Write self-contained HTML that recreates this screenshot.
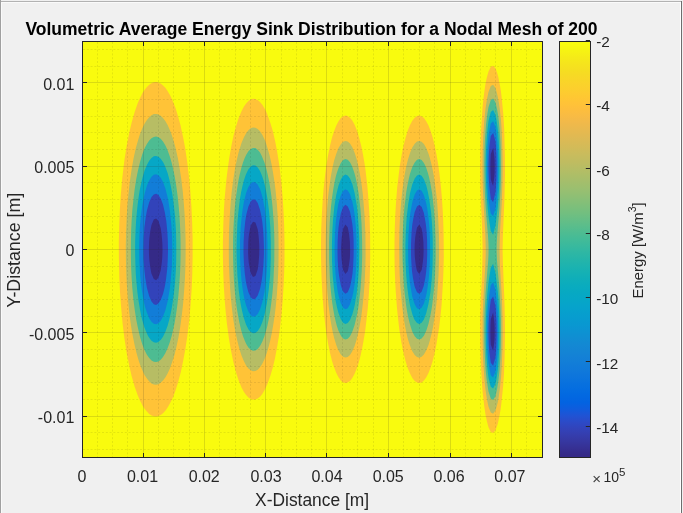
<!DOCTYPE html>
<html><head><meta charset="utf-8"><style>
html,body{margin:0;padding:0;background:#f0f0f0;overflow:hidden}
svg{display:block;filter:blur(0.4px);font-family:"Liberation Sans",sans-serif}
</style></head><body>
<svg width="683" height="513" viewBox="0 0 683 513">
<rect width="683" height="513" fill="#f0f0f0"/>
<rect x="0" y="1" width="682" height="1" fill="#b2b2b2"/>
<rect x="0" y="0" width="1" height="513" fill="#a0a0a0"/>
<rect x="1" y="2" width="680" height="1" fill="#fafafa"/>
<rect x="1" y="2" width="1" height="511" fill="#fafafa"/>
<rect x="680" y="2" width="1" height="511" fill="#ffffff"/>
<rect x="681" y="1" width="1" height="512" fill="#6e6e6e"/>
<rect x="82" y="41" width="461" height="417" fill="#f9fb0e"/>
<path d="M493.5 66.2 495.5 68.4 497.0 72.4 498.2 76.6 499.9 85.0 500.9 91.3 501.9 99.7 503.3 114.3 504.2 129.0 504.9 156.2 505.0 175.0 504.4 200.1 502.9 235.7 502.6 250.3 502.9 262.9 504.4 300.6 504.9 319.4 505.0 332.0 504.9 342.4 504.6 357.1 504.0 373.8 503.1 386.4 501.4 403.1 500.6 409.4 499.5 415.7 497.8 423.8 495.5 430.2 493.1 432.9 490.8 431.9 488.5 427.2 487.1 422.0 485.7 415.7 484.4 407.3 482.7 392.7 482.0 384.3 480.9 365.5 480.3 344.5 480.2 319.4 480.7 300.6 481.6 282.6 482.3 265.0 482.6 248.3 482.2 231.5 480.5 191.7 480.2 166.6 480.4 145.7 481.1 129.0 482.5 108.0 483.1 101.7 484.4 91.3 485.3 85.0 486.2 80.3 487.1 76.6 488.5 71.4 490.8 66.7 493.1 65.7 493.5 66.2ZM159.2 82.9 160.7 83.6 163.0 85.4 165.3 87.8 167.6 91.0 169.0 93.4 170.2 95.5 172.2 99.8 175.5 108.0 178.1 116.4 180.4 124.8 183.1 137.3 185.1 147.8 187.3 162.4 189.0 177.1 190.2 189.7 191.4 206.4 192.1 221.0 192.6 237.8 192.6 256.6 192.3 273.4 191.7 288.0 190.4 306.9 189.3 319.4 187.3 336.2 185.4 348.7 183.1 361.3 180.9 371.7 178.1 382.2 175.5 390.6 173.1 396.9 169.9 403.6 167.6 407.6 166.3 409.4 165.3 410.8 163.0 413.2 160.7 415.0 158.4 416.1 156.1 416.5 153.8 416.3 151.5 415.4 149.2 413.9 146.9 411.6 144.5 408.7 142.2 405.0 141.3 403.1 139.9 400.4 137.6 395.0 134.6 386.4 131.6 375.9 129.2 365.5 126.7 352.9 124.4 338.3 122.6 323.6 121.1 306.9 120.0 292.2 119.3 277.6 118.9 258.7 118.8 242.0 119.3 223.1 119.9 208.5 120.9 193.8 122.4 177.1 124.4 160.3 126.7 145.7 129.2 133.1 131.6 122.7 134.6 112.2 137.6 103.6 139.9 98.2 141.3 95.5 142.2 93.6 144.5 89.9 146.9 87.0 149.2 84.7 151.5 83.2 153.8 82.3 156.1 82.1 158.4 82.5 159.2 82.9ZM256.8 99.7 257.7 100.0 260.0 101.9 262.3 104.7 264.6 108.5 265.4 110.1 266.9 113.3 268.1 116.4 270.3 122.7 272.8 131.0 275.2 141.5 277.2 152.0 279.2 164.5 280.0 170.8 281.6 185.5 282.7 198.0 283.7 214.8 284.2 227.3 284.5 242.0 284.5 258.7 284.2 271.3 283.7 283.8 282.7 300.6 281.6 313.1 280.0 327.8 278.9 336.2 277.2 346.6 274.8 359.2 272.8 367.6 270.3 375.9 267.3 384.3 264.6 390.1 262.3 393.9 260.0 396.7 257.7 398.6 255.4 399.6 253.0 399.8 250.7 399.1 248.4 397.6 246.1 395.1 243.8 391.8 241.5 387.4 238.5 380.1 235.8 371.7 233.2 361.3 231.0 350.8 228.9 338.3 226.9 323.6 225.8 313.1 224.6 298.5 223.8 285.9 223.2 271.3 222.9 256.6 222.9 242.0 223.3 225.2 223.9 210.6 224.7 198.0 226.2 181.3 227.2 172.9 229.2 158.3 231.4 145.7 233.6 135.2 235.8 126.9 238.5 118.5 241.5 111.2 243.8 106.8 246.1 103.5 247.8 101.7 248.4 101.0 250.7 99.5 253.0 98.8 255.4 99.0 256.8 99.7ZM348.3 116.4 350.0 117.7 352.3 120.6 354.6 124.8 357.1 131.0 359.2 138.0 361.2 145.7 362.9 154.1 364.7 164.5 365.6 170.8 367.3 185.5 368.0 193.8 369.2 210.6 369.7 221.0 370.1 233.6 370.2 256.6 370.0 269.2 369.6 281.7 369.0 292.2 367.9 306.9 366.8 317.3 365.3 329.9 364.3 336.2 362.5 346.6 360.7 355.0 358.5 363.4 356.9 368.0 354.6 373.8 352.3 378.0 350.0 380.9 347.7 382.6 345.4 383.1 343.1 382.4 340.8 380.5 338.5 377.3 336.2 372.8 333.9 366.8 332.1 361.3 330.0 352.9 327.9 342.4 326.2 332.0 325.1 323.6 323.7 311.0 322.7 298.5 321.8 283.8 321.3 271.3 321.0 256.6 321.0 242.0 321.2 229.4 321.7 216.9 322.7 200.1 323.5 189.7 325.1 175.0 326.2 166.6 327.9 156.2 330.0 145.7 332.1 137.3 333.9 131.8 336.2 125.8 338.5 121.3 340.8 118.1 343.1 116.2 345.4 115.5 347.7 116.0 348.3 116.4ZM421.8 116.4 423.9 118.1 426.2 121.2 428.5 125.6 430.8 131.6 432.6 137.3 434.7 145.7 436.4 154.1 438.2 164.5 439.4 172.9 441.0 187.6 441.9 198.0 442.7 210.6 443.2 221.0 443.6 233.6 443.8 256.6 443.5 269.2 443.1 279.6 441.6 304.8 440.8 313.1 439.1 327.8 436.4 344.5 434.7 352.9 432.6 361.3 430.8 367.0 428.5 373.0 426.2 377.4 423.9 380.5 421.6 382.4 419.3 383.1 417.0 382.6 414.7 380.9 412.3 377.9 410.0 373.6 407.7 367.9 405.4 360.4 403.5 352.9 401.4 342.4 399.4 329.9 397.9 317.3 396.9 306.9 395.8 292.2 395.2 281.7 394.7 269.2 394.5 256.6 394.5 242.0 394.8 227.3 395.3 214.8 395.9 204.3 397.2 187.6 399.7 166.6 401.8 154.1 403.5 145.7 405.7 137.3 407.7 130.7 410.0 125.0 412.3 120.7 414.7 117.7 417.0 116.0 419.3 115.5 421.6 116.2 421.8 116.4Z" fill="#ffc337"/>
<path d="M493.3 85.0 495.5 88.1 497.5 95.5 498.7 101.7 499.9 110.1 501.0 120.6 501.6 129.0 502.1 139.4 502.6 160.3 502.6 170.8 502.5 181.3 501.7 204.3 499.8 235.7 499.5 250.3 499.9 265.0 501.3 288.0 502.0 300.6 502.5 319.4 502.6 332.0 502.5 346.6 501.8 365.5 501.0 378.0 499.9 388.5 498.4 398.9 497.8 402.2 497.0 405.2 495.5 410.5 493.1 413.8 490.8 412.6 490.4 411.5 488.5 406.7 486.9 398.9 485.6 390.6 484.7 382.2 483.6 367.6 483.0 357.1 482.6 336.2 482.7 315.2 483.4 298.5 485.4 262.9 485.7 254.5 485.7 248.3 485.4 235.7 483.1 193.8 482.7 181.3 482.5 166.6 482.7 152.0 483.2 137.3 484.3 120.6 485.6 108.0 486.9 99.7 488.5 91.9 490.8 86.0 493.1 84.8 493.3 85.0ZM157.9 114.3 158.4 114.4 160.7 115.8 163.0 118.0 165.3 121.0 167.6 125.1 168.5 126.9 171.1 133.1 173.2 139.4 175.5 147.8 177.9 158.3 179.7 168.7 181.3 179.2 182.8 191.7 183.9 204.3 184.8 216.9 185.3 229.4 185.6 242.0 185.6 254.5 185.4 267.1 184.9 279.6 184.2 290.1 183.0 304.8 181.8 315.2 180.1 327.8 178.3 338.3 176.5 346.6 174.6 354.4 172.2 362.1 169.9 368.4 167.6 373.5 165.3 377.6 163.0 380.6 160.7 382.8 158.4 384.2 156.1 384.7 153.8 384.5 151.5 383.4 149.2 381.4 146.9 378.6 144.5 374.9 142.0 369.6 140.4 365.5 138.9 361.3 136.5 352.9 134.5 344.5 132.0 332.0 130.4 321.5 129.1 311.0 127.9 298.5 126.9 285.9 126.3 273.4 125.9 258.7 125.8 246.2 126.1 231.5 126.7 216.9 127.5 204.3 128.7 191.7 129.9 181.3 131.7 168.7 133.6 158.3 135.9 147.8 138.3 139.4 139.9 134.3 141.2 131.0 142.2 128.4 144.5 123.7 146.9 120.0 149.2 117.2 151.5 115.2 153.8 114.1 156.1 113.9 157.9 114.3ZM257.7 129.0 260.0 131.3 262.3 134.8 264.6 139.6 266.1 143.6 268.1 149.9 269.8 156.2 271.6 164.5 273.1 172.9 274.7 183.4 275.7 191.7 276.9 204.3 277.6 214.8 278.2 225.2 278.5 237.8 278.6 248.3 278.5 260.8 278.2 273.4 277.6 283.8 276.9 294.3 275.7 306.9 274.7 315.2 273.1 325.7 272.0 332.0 270.3 340.3 268.7 346.6 266.9 352.7 264.6 359.0 262.3 363.8 260.0 367.3 257.7 369.7 255.4 370.9 253.0 371.2 250.7 370.3 248.4 368.4 246.1 365.4 243.8 361.1 241.5 355.5 239.2 348.3 237.2 340.3 235.0 329.9 233.3 319.4 232.0 308.9 230.9 298.5 230.1 288.0 229.4 275.5 228.9 262.9 228.8 250.3 228.9 237.8 229.2 227.3 229.7 216.9 230.7 202.2 231.7 191.7 233.3 179.2 235.0 168.7 236.7 160.3 238.7 152.0 241.5 143.1 243.8 137.5 246.1 133.2 248.4 130.2 250.7 128.3 253.0 127.4 255.4 127.7 257.7 129.0ZM347.6 141.5 350.0 143.6 351.4 145.7 352.3 147.3 354.6 152.7 356.4 158.3 358.0 164.5 359.7 172.9 360.8 179.2 362.0 187.6 363.0 195.9 364.5 214.8 365.4 233.6 365.6 254.5 365.4 265.0 365.0 275.5 364.4 285.9 363.6 296.4 362.0 311.0 360.8 319.4 359.3 327.8 358.0 334.1 356.4 340.3 354.6 345.9 352.3 351.3 350.0 355.0 347.7 357.0 345.4 357.6 343.1 356.8 340.8 354.4 338.5 350.5 337.7 348.7 336.2 344.7 334.2 338.3 332.7 332.0 331.1 323.6 329.8 315.2 328.5 304.8 327.5 294.3 326.7 283.8 325.8 265.0 325.7 254.5 325.7 244.1 325.8 233.6 326.2 223.1 327.1 208.5 327.8 200.1 328.7 191.7 330.1 181.3 331.1 175.0 332.7 166.6 334.2 160.3 336.2 153.9 338.5 148.1 339.9 145.7 340.8 144.2 343.1 141.8 345.4 141.0 347.6 141.5ZM420.8 141.5 421.6 141.8 423.9 144.1 426.2 148.0 428.5 153.7 429.9 158.3 431.5 164.5 432.9 170.8 434.0 177.1 435.2 185.5 436.5 195.9 437.3 204.3 438.0 214.8 438.9 233.6 439.1 244.1 439.1 254.5 438.9 265.0 438.5 275.5 437.1 296.4 436.3 304.8 434.9 315.2 432.9 327.8 431.5 334.1 429.9 340.3 428.5 344.9 426.2 350.6 423.9 354.5 423.4 355.0 421.6 356.8 419.3 357.7 417.0 357.0 414.7 354.9 412.3 351.2 411.2 348.7 409.6 344.5 407.7 338.2 406.2 332.0 404.6 323.6 403.3 315.2 402.0 304.8 400.3 285.9 399.7 275.5 399.4 265.0 399.2 244.1 399.4 231.5 399.8 221.0 400.3 212.7 401.3 200.1 402.2 191.7 403.6 181.3 404.6 175.0 406.2 166.6 407.7 160.4 409.0 156.2 410.0 152.9 412.3 147.4 414.7 143.7 417.0 141.6 419.3 140.9 420.8 141.5Z" fill="#b7bd64"/>
<path d="M493.9 99.7 495.5 102.4 497.2 110.1 498.3 116.4 499.0 122.7 499.7 131.0 500.4 141.5 500.7 149.9 501.0 168.7 500.9 179.2 500.5 189.7 499.3 210.6 497.0 237.8 496.7 244.1 496.6 250.3 497.0 260.8 499.3 288.0 500.3 304.8 500.9 319.4 501.0 334.1 500.8 346.6 500.4 357.1 499.6 369.6 498.5 380.1 497.2 388.5 495.5 396.2 493.1 400.1 490.8 398.7 488.5 391.4 488.0 388.5 486.7 380.1 485.8 371.7 485.2 363.4 484.7 352.9 484.4 342.4 484.3 332.0 484.4 319.4 484.7 308.9 485.6 292.2 488.2 260.8 488.5 254.5 488.6 248.3 488.4 242.0 488.0 235.7 485.9 210.6 485.0 195.9 484.5 181.3 484.3 164.5 484.5 149.9 485.1 137.3 486.0 124.8 487.3 114.3 488.5 107.2 490.8 99.9 493.1 98.5 493.9 99.7ZM158.6 137.3 160.7 138.8 163.0 141.5 165.3 145.3 167.6 150.3 169.9 156.8 171.6 162.4 173.1 168.7 174.8 177.1 176.2 185.5 177.6 195.9 178.5 204.3 179.4 214.8 179.9 223.1 180.4 233.6 180.6 244.1 180.6 254.5 180.4 265.0 179.9 275.5 179.2 285.9 178.3 296.4 177.4 304.8 175.9 315.2 174.6 322.9 173.1 329.9 171.6 336.2 169.7 342.4 167.6 348.3 165.3 353.3 163.0 357.1 160.7 359.8 158.4 361.4 156.1 362.1 153.8 361.7 151.5 360.4 149.2 358.1 146.9 354.7 144.5 350.1 142.2 344.1 139.9 336.4 137.9 327.8 136.2 319.4 134.6 308.9 133.3 298.5 132.3 288.0 131.6 277.6 131.1 267.1 130.9 256.6 130.9 244.1 131.1 231.5 131.6 221.0 132.3 210.6 133.6 198.0 134.6 189.7 136.2 179.2 137.9 170.8 139.9 162.4 142.2 154.5 144.5 148.5 146.9 143.9 149.2 140.5 151.5 138.2 153.8 136.9 156.1 136.5 158.6 137.3ZM257.9 149.9 260.0 152.5 261.9 156.2 264.6 162.9 266.3 168.7 267.8 175.0 269.2 181.8 270.5 189.7 271.6 198.0 272.5 206.4 273.8 223.1 274.2 233.6 274.4 242.0 274.3 260.8 273.5 279.6 272.9 288.0 272.1 296.4 270.2 311.0 268.7 319.4 267.4 325.7 265.7 332.0 264.4 336.2 262.3 341.7 260.0 346.1 257.7 348.9 255.4 350.5 253.0 350.7 250.7 349.7 248.4 347.4 246.1 343.7 244.6 340.3 243.0 336.2 241.1 329.9 239.2 321.7 238.0 315.2 236.6 306.9 235.6 298.5 234.7 290.1 233.9 279.6 233.4 269.2 233.1 258.7 233.0 248.3 233.1 237.8 233.5 227.3 234.1 216.9 234.9 206.4 235.8 198.0 237.0 189.7 238.3 181.3 239.6 175.0 241.5 167.3 243.0 162.4 244.6 158.3 246.1 154.9 248.4 151.2 250.7 148.9 253.0 147.9 255.4 148.1 257.9 149.9ZM348.2 160.3 350.0 162.3 352.2 166.6 354.4 172.9 355.5 177.1 356.9 183.4 358.7 193.8 360.4 208.5 361.5 223.1 362.1 239.9 362.2 256.6 361.7 271.3 360.6 288.0 359.0 302.7 358.1 308.9 356.9 315.2 354.6 325.0 352.3 331.8 350.0 336.3 347.7 338.8 345.4 339.5 343.1 338.5 341.2 336.2 340.8 335.6 338.5 330.7 336.8 325.7 335.7 321.5 334.3 315.2 333.2 308.9 332.2 302.7 331.2 294.3 330.4 285.9 329.8 277.6 329.1 258.7 329.1 242.0 329.7 223.1 330.3 214.8 331.0 206.4 332.0 198.0 333.2 189.7 334.3 183.4 335.7 177.1 336.8 172.9 338.5 167.9 340.8 163.0 343.1 160.1 345.4 159.1 347.7 159.8 348.2 160.3ZM421.8 160.3 423.9 162.9 424.7 164.5 426.2 167.7 427.9 172.9 429.0 177.1 430.4 183.4 432.2 193.8 433.9 208.5 435.0 223.1 435.6 239.9 435.7 256.6 435.1 273.4 434.1 288.0 432.5 302.7 431.6 308.9 430.4 315.2 428.5 323.7 426.5 329.9 425.7 332.0 423.9 335.7 421.6 338.5 419.3 339.5 417.0 338.8 414.7 336.2 412.3 331.7 411.0 327.8 409.7 323.6 408.2 317.3 407.0 311.0 406.0 304.8 405.0 296.4 404.1 288.0 403.5 279.6 402.6 260.8 402.5 252.4 402.6 242.0 402.8 233.6 403.2 223.1 403.8 214.8 404.5 206.4 406.3 191.7 407.4 185.5 408.7 179.2 410.0 173.8 411.7 168.7 412.3 166.9 414.7 162.4 417.0 159.8 419.3 159.1 421.6 160.1 421.8 160.3Z" fill="#4dbc92"/>
<path d="M493.4 265.0 495.5 273.2 497.8 291.8 498.5 300.6 499.1 311.0 499.4 321.5 499.5 332.0 499.4 342.4 499.0 352.9 498.5 361.3 497.8 369.8 496.6 378.0 495.5 383.7 493.1 388.5 490.8 386.7 489.6 382.2 488.6 378.0 488.0 373.8 487.1 365.5 486.3 355.0 485.9 344.5 485.7 332.0 485.9 319.4 486.4 306.9 487.3 294.3 488.5 282.0 490.8 267.7 493.1 263.8 493.4 265.0ZM156.8 156.2 158.4 156.7 160.7 158.7 163.0 161.9 164.3 164.5 165.3 166.7 167.6 173.1 169.3 179.2 170.7 185.5 172.2 193.5 173.2 200.1 174.9 214.8 175.5 223.1 176.0 231.5 176.2 239.9 176.3 250.3 176.2 260.8 175.9 269.2 175.4 277.6 174.7 285.9 173.8 294.3 172.6 302.7 171.6 308.9 170.3 315.2 169.3 319.4 167.6 325.7 165.3 331.9 163.0 336.7 160.7 339.9 160.2 340.3 158.4 341.9 156.1 342.7 153.8 342.3 151.5 340.7 149.2 337.8 148.2 336.2 146.9 333.6 144.5 327.8 142.2 319.9 141.1 315.2 139.9 308.9 138.5 300.6 137.4 292.2 136.6 283.8 135.9 275.5 135.5 267.1 135.2 256.6 135.1 248.3 135.2 239.9 135.6 229.4 136.1 221.0 136.8 212.7 137.7 204.3 138.8 195.9 139.9 189.3 141.6 181.3 142.7 177.1 144.5 170.8 146.9 165.0 149.2 160.8 151.5 157.9 153.8 156.3 156.1 155.9 156.8 156.2ZM256.6 166.6 257.7 167.5 260.0 171.0 262.3 176.4 263.8 181.3 264.9 185.5 266.2 191.7 267.3 198.0 268.2 204.3 269.2 212.7 270.3 227.3 270.8 242.0 270.8 258.7 270.1 275.5 268.7 290.1 266.9 303.2 264.6 314.4 262.3 322.2 260.0 327.6 257.7 331.1 255.4 333.0 253.0 333.3 250.7 332.1 248.9 329.9 248.4 329.3 246.1 324.7 243.6 317.3 242.1 311.0 240.8 304.8 239.8 298.5 238.7 290.1 237.4 275.5 236.7 258.7 236.5 250.3 236.7 239.9 237.4 223.1 238.1 214.8 239.0 206.4 240.1 198.0 241.2 191.7 242.6 185.5 243.8 180.7 245.7 175.0 246.6 172.9 248.4 169.3 250.7 166.5 253.0 165.3 255.4 165.6 256.6 166.6ZM346.5 175.0 347.7 175.5 350.0 178.5 352.3 184.1 354.6 192.9 355.9 200.1 356.9 206.4 357.6 212.7 358.6 225.2 359.2 237.8 359.3 252.4 359.0 267.1 358.0 281.7 356.6 294.3 354.8 304.8 353.8 308.9 352.3 314.5 350.0 320.1 347.7 323.1 345.4 324.0 343.1 322.7 340.8 319.2 338.5 313.1 336.9 306.9 335.6 300.6 333.9 288.0 332.7 275.5 332.0 260.8 331.9 246.2 332.3 231.5 333.1 219.0 334.4 206.4 336.2 195.1 338.5 185.5 340.8 179.4 343.1 175.9 345.4 174.6 346.5 175.0ZM420.1 175.0 421.6 175.8 423.9 179.2 425.5 183.4 426.3 185.5 427.8 191.7 429.4 200.1 431.1 212.7 432.1 225.2 432.7 237.8 432.8 252.4 432.5 267.1 431.7 279.6 430.4 292.2 428.5 303.8 426.2 313.3 423.9 319.4 421.6 322.8 419.3 324.0 417.0 323.1 414.7 320.0 414.4 319.4 412.7 315.2 412.0 313.1 410.0 305.4 409.1 300.6 408.2 294.3 407.4 288.0 406.2 275.5 405.5 260.8 405.4 246.2 405.8 231.5 406.7 216.9 408.2 204.3 410.0 193.2 412.3 184.3 414.7 178.6 417.0 175.5 419.3 174.6 420.1 175.0ZM494.2 112.2 495.5 114.9 496.2 118.5 497.5 126.9 498.2 133.1 498.8 141.5 499.2 149.9 499.5 160.3 499.5 170.8 499.3 181.3 499.0 189.7 497.8 206.8 495.5 225.4 493.1 234.8 490.8 230.9 488.5 216.6 487.9 210.6 487.0 200.1 486.2 187.6 485.8 175.0 485.7 162.4 486.0 149.9 486.6 139.4 487.5 129.0 488.5 121.0 489.6 116.4 490.8 111.9 493.1 110.1 494.2 112.2Z" fill="#06a7c6"/>
<path d="M493.6 283.8 495.5 290.0 496.9 302.7 497.6 311.0 497.9 317.3 498.2 334.1 497.8 349.1 497.2 357.1 496.6 363.4 495.5 371.2 493.1 377.4 490.8 375.2 489.7 369.6 488.5 362.8 487.9 355.0 487.4 346.6 487.2 338.3 487.1 329.9 487.3 319.4 487.7 311.0 488.5 300.6 489.0 296.4 490.8 285.2 493.1 282.3 493.6 283.8ZM157.7 175.0 158.4 175.3 160.7 177.8 163.0 182.0 165.3 188.2 167.3 195.9 168.2 200.1 169.9 210.9 171.4 225.2 172.1 237.8 172.3 252.4 171.8 267.1 170.8 279.6 169.6 290.1 167.6 301.4 165.3 310.4 163.0 316.6 160.7 320.8 160.1 321.5 158.4 323.3 156.1 324.3 153.8 323.8 151.5 321.8 149.2 318.2 146.9 312.6 145.1 306.9 144.1 302.7 142.9 296.4 141.8 290.1 141.0 283.8 140.2 275.5 139.4 260.8 139.2 246.2 139.6 231.5 140.0 225.2 140.8 216.9 142.2 205.8 143.3 200.1 144.6 193.8 147.0 185.5 149.2 180.4 151.5 176.8 153.8 174.8 156.1 174.3 157.7 175.0ZM256.5 183.4 257.7 184.6 258.1 185.5 260.0 189.1 260.9 191.7 262.7 198.0 264.7 208.5 266.0 219.0 267.0 231.5 267.5 244.1 267.4 258.7 266.8 271.3 265.6 283.8 264.4 292.2 262.3 302.2 260.0 309.5 257.7 314.0 255.4 316.3 253.0 316.7 250.7 315.2 248.4 311.6 246.1 305.6 244.3 298.5 243.5 294.3 242.5 288.0 241.6 281.7 240.6 269.2 240.0 256.6 240.0 242.0 240.7 227.3 241.9 214.8 242.8 208.5 243.8 202.4 246.1 193.0 248.4 187.0 250.7 183.4 253.0 181.9 255.4 182.3 256.5 183.4ZM346.2 189.7 347.7 190.4 350.0 194.3 352.3 201.7 353.7 208.5 354.9 216.9 355.9 227.3 356.4 237.8 356.6 250.3 356.3 262.9 355.7 273.4 354.6 283.9 353.3 292.2 352.3 296.9 350.0 304.3 347.7 308.2 345.4 309.3 343.1 307.7 340.8 303.2 338.8 296.4 337.9 292.2 336.3 281.7 335.5 273.4 334.8 260.8 334.6 248.3 334.9 235.7 335.7 223.1 336.6 214.8 338.3 204.3 339.4 200.1 340.8 195.4 342.6 191.7 343.1 190.9 345.4 189.3 346.2 189.7ZM419.8 189.7 421.6 190.8 423.9 195.2 426.2 203.3 427.2 208.5 428.5 217.8 429.4 227.3 429.9 237.8 430.1 250.3 429.8 262.9 429.2 273.4 428.4 281.7 426.8 292.2 425.9 296.4 423.9 303.4 421.6 307.8 419.3 309.3 417.0 308.2 414.7 304.2 412.3 296.7 411.5 292.2 410.0 283.4 408.9 271.3 408.3 260.8 408.1 248.3 408.4 235.7 409.2 223.1 410.1 214.8 411.9 204.3 412.9 200.1 414.7 194.4 417.0 190.4 419.3 189.3 419.8 189.7ZM493.8 122.7 495.5 127.4 496.3 133.1 497.0 139.4 497.9 152.0 498.1 160.3 498.2 168.7 497.8 184.2 497.3 191.7 496.5 200.1 495.5 208.6 493.1 216.3 490.8 213.4 489.6 206.4 488.5 198.9 487.8 189.7 487.4 181.3 487.2 172.9 487.1 164.5 487.3 156.2 487.6 147.8 488.2 139.4 488.9 133.1 489.7 129.0 490.8 123.4 493.1 121.2 493.8 122.7Z" fill="#127dd8"/>
<path d="M493.7 298.5 495.5 306.3 495.7 308.9 496.5 321.5 496.7 334.1 496.3 346.6 495.5 356.8 494.4 361.3 493.1 365.7 490.8 362.7 490.0 357.1 489.3 350.8 488.8 344.5 488.5 336.3 488.5 329.9 488.6 323.6 489.1 315.2 489.9 306.9 490.8 299.9 493.1 296.4 493.7 298.5ZM156.4 193.8 158.4 195.0 160.7 198.5 163.0 204.5 164.9 212.7 166.3 221.0 167.3 231.5 167.8 239.9 168.0 250.3 167.7 260.8 167.2 269.2 166.0 279.6 165.3 284.0 164.5 288.0 163.0 294.1 160.7 300.1 158.4 303.6 156.1 304.9 153.8 304.2 151.5 301.5 149.2 296.3 146.9 287.8 145.2 277.6 144.3 269.2 143.6 258.7 143.5 248.3 143.7 237.8 144.4 227.3 145.5 219.0 146.9 210.6 149.2 202.3 151.5 197.1 153.8 194.4 156.1 193.7 156.4 193.8ZM255.6 200.1 257.7 203.1 260.0 209.7 261.1 214.8 262.2 221.0 263.1 229.4 263.6 237.8 263.9 246.2 263.9 254.5 263.4 265.0 262.4 275.5 261.5 281.7 260.0 288.9 257.7 295.5 255.4 298.7 253.0 299.3 250.7 297.2 248.4 292.2 246.8 285.9 245.9 281.7 244.8 273.4 243.9 262.9 243.5 252.4 243.6 242.0 244.2 231.5 245.3 221.0 246.3 214.8 248.4 206.4 250.7 201.4 252.2 200.1 253.0 199.3 255.4 199.9 255.6 200.1ZM347.8 206.4 350.0 211.8 351.1 216.9 352.3 223.8 353.1 231.5 353.6 239.9 353.7 248.3 353.6 256.6 353.2 265.0 352.5 273.4 351.9 277.6 350.7 283.8 350.0 286.8 347.7 292.3 345.4 293.8 343.1 291.6 341.7 288.0 340.8 285.2 339.0 275.5 338.3 269.2 337.7 260.8 337.5 252.4 337.6 242.0 337.9 235.7 338.5 227.6 339.4 221.0 340.8 213.4 343.1 207.0 345.4 204.8 347.8 206.4ZM421.1 206.4 421.6 206.8 423.9 213.1 425.0 219.0 426.0 225.2 426.6 231.5 427.1 239.9 427.2 246.2 427.2 254.5 426.9 262.9 426.2 271.6 425.4 277.6 424.2 283.8 423.7 285.9 421.6 291.8 419.3 293.8 417.0 292.2 415.2 288.0 414.5 285.9 412.9 277.6 412.0 271.3 411.4 262.9 411.0 254.5 411.0 244.1 411.5 233.6 412.2 225.2 413.2 219.0 414.7 212.0 417.0 206.4 419.3 204.8 421.1 206.4ZM493.2 133.1 494.4 137.3 495.5 141.8 496.4 154.1 496.7 166.6 496.4 179.2 495.5 192.3 494.2 198.0 493.1 202.2 490.8 198.7 490.2 193.8 489.5 187.6 489.0 181.3 488.6 172.9 488.5 166.6 488.6 160.3 489.0 152.0 489.5 145.7 490.3 139.4 490.8 135.9 493.1 132.9 493.2 133.1Z" fill="#3243ba"/>
<path d="M493.2 313.1 494.3 321.5 494.6 325.7 494.7 332.0 494.6 338.3 494.3 342.4 493.1 350.8 492.3 348.7 490.8 344.5 490.5 338.3 490.4 332.0 490.5 325.7 490.8 319.2 492.1 315.2 493.1 312.6 493.2 313.1ZM156.6 219.0 158.4 220.8 160.7 228.2 161.5 233.6 162.1 239.9 162.4 244.1 162.5 250.3 162.3 256.6 162.0 260.8 161.5 265.0 160.7 270.4 158.4 277.8 156.1 280.2 153.8 279.0 151.4 273.4 150.2 267.1 149.4 260.8 149.0 254.5 148.9 248.3 149.1 242.0 149.4 237.8 150.2 231.5 151.5 225.1 153.8 219.6 156.1 218.4 156.6 219.0ZM255.6 223.1 257.7 229.2 258.6 235.7 259.2 244.1 259.3 248.3 259.2 254.5 258.6 262.9 257.7 269.4 255.4 276.0 253.0 276.9 250.7 273.0 249.5 267.1 248.8 262.9 248.4 258.7 248.1 252.4 248.3 242.0 248.6 237.8 249.1 233.6 250.7 225.6 253.0 221.7 255.4 222.6 255.6 223.1ZM346.0 225.2 347.7 227.3 349.0 233.6 349.9 242.0 350.1 250.3 350.0 255.5 349.8 258.7 349.0 265.0 348.2 269.2 347.7 271.3 345.4 274.0 343.1 269.9 342.6 267.1 341.5 258.7 341.3 254.5 341.1 248.3 341.4 242.0 341.7 237.8 342.3 233.6 343.1 228.7 345.4 224.6 346.0 225.2ZM419.7 225.2 421.6 228.5 422.5 233.6 423.4 242.0 423.6 250.3 423.4 256.6 423.0 260.8 421.8 269.2 421.6 270.1 419.3 274.0 417.0 271.1 416.1 267.1 415.5 262.9 414.8 256.6 414.6 248.3 414.7 244.1 415.2 237.8 415.8 233.6 417.0 227.5 419.3 224.6 419.7 225.2ZM493.2 147.8 494.3 156.2 494.6 160.3 494.7 166.6 494.6 172.9 494.3 177.1 493.1 186.0 492.1 183.4 490.8 179.4 490.5 172.9 490.4 166.6 490.5 160.3 490.8 154.1 492.3 149.9 493.2 147.8Z" fill="#352a87"/>
<path d="M97.50 42V457M112.50 42V457M127.50 42V457M158.50 42V457M173.50 42V457M189.50 42V457M219.50 42V457M235.50 42V457M250.50 42V457M281.50 42V457M296.50 42V457M311.50 42V457M342.50 42V457M357.50 42V457M373.50 42V457M403.50 42V457M419.50 42V457M434.50 42V457M465.50 42V457M480.50 42V457M495.50 42V457M526.50 42V457" stroke="rgba(26,26,26,0.09)" stroke-width="1" stroke-dasharray="2 1.8" fill="none"/>
<path d="M83 449.50H542M83 432.50H542M83 399.50H542M83 382.50H542M83 366.50H542M83 349.50H542M83 316.50H542M83 299.50H542M83 282.50H542M83 266.50H542M83 232.50H542M83 216.50H542M83 199.50H542M83 182.50H542M83 149.50H542M83 132.50H542M83 116.50H542M83 99.50H542M83 66.50H542M83 49.50H542" stroke="rgba(26,26,26,0.09)" stroke-width="1" stroke-dasharray="2 1.8" fill="none"/>
<path d="M143.5 41.5V457.5M204.5 41.5V457.5M265.5 41.5V457.5M326.5 41.5V457.5M388.5 41.5V457.5M450.5 41.5V457.5M511.5 41.5V457.5M82.5 416.5H542.5M82.5 332.5H542.5M82.5 249.5H542.5M82.5 166.5H542.5M82.5 82.5H542.5" stroke="rgba(38,38,38,0.15)" stroke-width="1" fill="none"/>
<path d="M143.5 457v-4M143.5 42v4M204.5 457v-4M204.5 42v4M265.5 457v-4M265.5 42v4M326.5 457v-4M326.5 42v4M388.5 457v-4M388.5 42v4M450.5 457v-4M450.5 42v4M511.5 457v-4M511.5 42v4M83 416.5h4M542 416.5h-4M83 332.5h4M542 332.5h-4M83 249.5h4M542 249.5h-4M83 166.5h4M542 166.5h-4M83 82.5h4M542 82.5h-4" stroke="#262626" stroke-width="1" fill="none"/>
<rect x="82.5" y="41.5" width="460" height="416" fill="none" stroke="#262626" stroke-width="1"/>
<defs><linearGradient id="cbg" x1="0" y1="0" x2="0" y2="1"><stop offset="0.0078" stop-color="#f9fb0e"/><stop offset="0.0234" stop-color="#f6f313"/><stop offset="0.0391" stop-color="#f5eb18"/><stop offset="0.0547" stop-color="#f5e41d"/><stop offset="0.0703" stop-color="#f5de21"/><stop offset="0.0859" stop-color="#f7d826"/><stop offset="0.1016" stop-color="#fad32a"/><stop offset="0.1172" stop-color="#fcce2e"/><stop offset="0.1328" stop-color="#fec832"/><stop offset="0.1484" stop-color="#ffc337"/><stop offset="0.1641" stop-color="#fdbe3d"/><stop offset="0.1797" stop-color="#f8bb44"/><stop offset="0.1953" stop-color="#f1b94a"/><stop offset="0.2109" stop-color="#e9b94e"/><stop offset="0.2266" stop-color="#e1b952"/><stop offset="0.2422" stop-color="#d9ba56"/><stop offset="0.2578" stop-color="#d1bb59"/><stop offset="0.2734" stop-color="#c8bc5d"/><stop offset="0.2891" stop-color="#c0bc60"/><stop offset="0.3047" stop-color="#b7bd64"/><stop offset="0.3203" stop-color="#aebe67"/><stop offset="0.3359" stop-color="#a5be6b"/><stop offset="0.3516" stop-color="#9cbf6f"/><stop offset="0.3672" stop-color="#92bf73"/><stop offset="0.3828" stop-color="#87bf77"/><stop offset="0.3984" stop-color="#7cbf7b"/><stop offset="0.4141" stop-color="#71bf80"/><stop offset="0.4297" stop-color="#65be86"/><stop offset="0.4453" stop-color="#59bd8c"/><stop offset="0.4609" stop-color="#4dbc92"/><stop offset="0.4766" stop-color="#42bb98"/><stop offset="0.4922" stop-color="#38b99e"/><stop offset="0.5078" stop-color="#2eb7a4"/><stop offset="0.5234" stop-color="#25b5a9"/><stop offset="0.5391" stop-color="#1db3af"/><stop offset="0.5547" stop-color="#15b1b4"/><stop offset="0.5703" stop-color="#0faeb9"/><stop offset="0.5859" stop-color="#0aacbe"/><stop offset="0.6016" stop-color="#07a9c2"/><stop offset="0.6172" stop-color="#06a7c6"/><stop offset="0.6328" stop-color="#06a4ca"/><stop offset="0.6484" stop-color="#06a0cd"/><stop offset="0.6641" stop-color="#079ccf"/><stop offset="0.6797" stop-color="#0998d1"/><stop offset="0.6953" stop-color="#0c93d2"/><stop offset="0.7109" stop-color="#108ed2"/><stop offset="0.7266" stop-color="#1389d3"/><stop offset="0.7422" stop-color="#1485d4"/><stop offset="0.7578" stop-color="#1481d6"/><stop offset="0.7734" stop-color="#127dd8"/><stop offset="0.7891" stop-color="#1079da"/><stop offset="0.8047" stop-color="#0d75dc"/><stop offset="0.8203" stop-color="#0871de"/><stop offset="0.8359" stop-color="#046de0"/><stop offset="0.8516" stop-color="#0268e1"/><stop offset="0.8672" stop-color="#0363e1"/><stop offset="0.8828" stop-color="#0f5cdd"/><stop offset="0.8984" stop-color="#2053d4"/><stop offset="0.9141" stop-color="#2c4ac7"/><stop offset="0.9297" stop-color="#3243ba"/><stop offset="0.9453" stop-color="#353dad"/><stop offset="0.9609" stop-color="#3637a0"/><stop offset="0.9766" stop-color="#363093"/><stop offset="0.9922" stop-color="#352a87"/></linearGradient></defs>
<rect x="559" y="41" width="32" height="417" fill="url(#cbg)"/>
<path d="M590 40.5h-4.2M590 104.5h-4.2M590 168.5h-4.2M590 233.5h-4.2M590 297.5h-4.2M590 361.5h-4.2M590 426.5h-4.2" stroke="#262626" stroke-width="1" fill="none"/>
<rect x="559.5" y="41.5" width="31" height="416" fill="none" stroke="#262626" stroke-width="1"/>
<text x="311.5" y="35" text-anchor="middle" font-weight="bold" font-size="17.5" fill="#000">Volumetric Average Energy Sink Distribution for a Nodal Mesh of 200</text>
<text x="74.3" y="90.1" text-anchor="end" font-size="16" letter-spacing="0" fill="#262626">0.01</text>
<text x="74.3" y="172.7" text-anchor="end" font-size="16" letter-spacing="0" fill="#262626">0.005</text>
<text x="74.3" y="256.1" text-anchor="end" font-size="16" letter-spacing="0" fill="#262626">0</text>
<text x="74.3" y="340.1" text-anchor="end" font-size="16" letter-spacing="0" fill="#262626">-0.005</text>
<text x="74.3" y="423.1" text-anchor="end" font-size="16" letter-spacing="0" fill="#262626">-0.01</text>
<text x="81.9" y="481.6" text-anchor="middle" font-size="16" letter-spacing="0" fill="#262626">0</text>
<text x="142.5" y="481.6" text-anchor="middle" font-size="16" letter-spacing="0" fill="#262626">0.01</text>
<text x="204.2" y="481.6" text-anchor="middle" font-size="16" letter-spacing="0" fill="#262626">0.02</text>
<text x="266.0" y="481.6" text-anchor="middle" font-size="16" letter-spacing="0" fill="#262626">0.03</text>
<text x="327.0" y="481.6" text-anchor="middle" font-size="16" letter-spacing="0" fill="#262626">0.04</text>
<text x="388.2" y="481.6" text-anchor="middle" font-size="16" letter-spacing="0" fill="#262626">0.05</text>
<text x="449.0" y="481.6" text-anchor="middle" font-size="16" letter-spacing="0" fill="#262626">0.06</text>
<text x="509.9" y="481.6" text-anchor="middle" font-size="16" letter-spacing="0" fill="#262626">0.07</text>
<text x="312.1" y="506" text-anchor="middle" font-size="17.5" fill="#262626" textLength="114" lengthAdjust="spacingAndGlyphs">X-Distance [m]</text>
<text transform="translate(19.6,250.3) rotate(-90)" text-anchor="middle" font-size="17.5" fill="#262626" textLength="115" lengthAdjust="spacingAndGlyphs">Y-Distance [m]</text>
<text x="596.2" y="46.8" font-size="15.3" fill="#262626">-2</text>
<text x="596.2" y="111.1" font-size="15.3" fill="#262626">-4</text>
<text x="596.2" y="175.5" font-size="15.3" fill="#262626">-6</text>
<text x="596.2" y="239.8" font-size="15.3" fill="#262626">-8</text>
<text x="596.2" y="304.1" font-size="15.3" fill="#262626">-10</text>
<text x="596.2" y="368.5" font-size="15.3" fill="#262626">-12</text>
<text x="596.2" y="432.8" font-size="15.3" fill="#262626">-14</text>
<text transform="translate(642.7,250.4) rotate(-90)" text-anchor="middle" font-size="14.9" fill="#262626">Energy [W/m<tspan dy="-7" font-size="10.5">3</tspan><tspan dy="7">]</tspan></text>
<text x="592.2" y="483.6" font-size="15" fill="#404040">×</text>
<text x="603.5" y="481.8" font-size="14" fill="#262626">10</text>
<text x="619" y="475.8" font-size="11.5" fill="#262626">5</text>
</svg>
</body></html>
